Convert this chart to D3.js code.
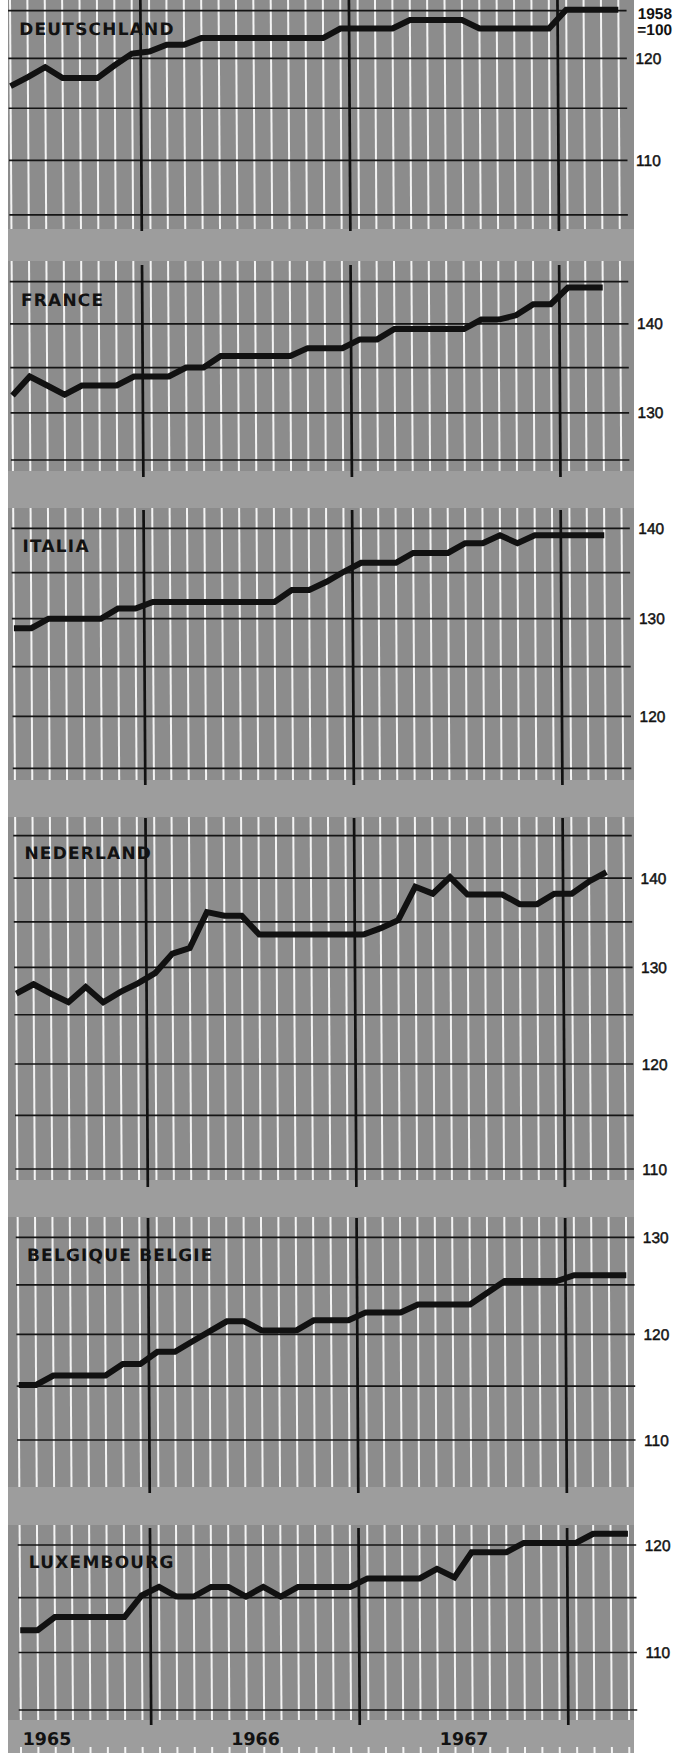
<!DOCTYPE html>
<html>

<head>
    <meta charset="utf-8">
    <script src="https://d3js.org/d3.v7.min.js" charset="utf-8"></script>
    <style>
        body { margin: 0; background: #fff; }
        svg { display: block; }
        .title { font-family: "DejaVu Sans", sans-serif; font-weight: bold; font-size: 17px; letter-spacing: 1.2px; fill: #121212; }
        .ylab { font-family: "Liberation Sans", Arial, sans-serif; font-size: 15.5px; fill: #121212; stroke: #121212; stroke-width: 0.45px; }
        .base { font-family: "Liberation Sans", Arial, sans-serif; font-weight: bold; font-size: 15.5px; fill: #121212; }
        .year { font-family: "DejaVu Sans", sans-serif; font-weight: bold; font-size: 17.5px; fill: #121212; }
    </style>
</head>

<body>
    <div id="chart_container"></div>
    <script>
        // monthly index, 1958 = 100 (ratio scale)
        const months = [
            'May 1965', 'Jun 1965', 'Jul 1965', 'Aug 1965', 'Sep 1965', 'Oct 1965', 'Nov 1965', 'Dec 1965',
            'Jan 1966', 'Feb 1966', 'Mar 1966', 'Apr 1966', 'May 1966', 'Jun 1966', 'Jul 1966', 'Aug 1966',
            'Sep 1966', 'Oct 1966', 'Nov 1966', 'Dec 1966',
            'Jan 1967', 'Feb 1967', 'Mar 1967', 'Apr 1967', 'May 1967', 'Jun 1967', 'Jul 1967', 'Aug 1967',
            'Sep 1967', 'Oct 1967', 'Nov 1967', 'Dec 1967',
            'Jan 1968', 'Feb 1968', 'Mar 1968', 'Apr 1968'
        ];
        const countries = ['DEUTSCHLAND', 'FRANCE', 'ITALIA', 'NEDERLAND', 'BELGIQUE BELGIE', 'LUXEMBOURG'];
        const yearLabels = ['1965', '1966', '1967'];

        const deutschland = [117.2, 118.1, 119.1, 118.0, 118.0, 118.0, 119.3, 120.5, 120.7, 121.4, 121.4, 122.1,
            122.1, 122.1, 122.1, 122.1, 122.1, 122.1, 122.1, 123.1, 123.1, 123.1, 123.1, 124.0,
            124.0, 124.0, 124.0, 123.1, 123.1, 123.1, 123.1, 123.1, 125.1, 125.1, 125.1, 125.1];
        const france = [131.9, 134.0, 133.0, 132.0, 133.0, 133.0, 133.0, 134.0, 134.0, 134.0, 135.0, 135.0,
            136.3, 136.3, 136.3, 136.3, 136.3, 137.2, 137.2, 137.2, 138.2, 138.2, 139.4, 139.4,
            139.4, 139.4, 139.4, 140.5, 140.5, 141.0, 142.3, 142.3, 144.3, 144.3, 144.3];
        const italia = [129.0, 129.0, 130.0, 130.0, 130.0, 130.0, 131.1, 131.1, 131.8, 131.8, 131.8, 131.8,
            131.8, 131.8, 131.8, 131.8, 133.1, 133.1, 134.0, 135.1, 136.1, 136.1, 136.1, 137.2,
            137.2, 137.2, 138.3, 138.3, 139.2, 138.3, 139.2, 139.2, 139.2, 139.2, 139.2];
        const nederland = [127.2, 128.2, 127.2, 126.3, 127.9, 126.3, 127.4, 128.3, 129.4, 131.5, 132.1, 136.1,
            135.7, 135.7, 133.6, 133.6, 133.6, 133.6, 133.6, 133.6, 133.6, 134.3, 135.2, 139.0,
            138.2, 140.1, 138.1, 138.1, 138.1, 137.0, 137.0, 138.2, 138.2, 139.6, 140.7];
        const belgique = [115.1, 115.1, 116.0, 116.0, 116.0, 116.0, 117.1, 117.1, 118.3, 118.3, 119.3, 120.3,
            121.3, 121.3, 120.4, 120.4, 120.4, 121.4, 121.4, 121.4, 122.2, 122.2, 122.2, 123.0,
            123.0, 123.0, 123.0, 124.2, 125.4, 125.4, 125.4, 125.4, 126.0, 126.0, 126.0, 126.0];
        const luxembourg = [112.0, 112.0, 113.2, 113.2, 113.2, 113.2, 113.2, 115.2, 116.0, 115.1, 115.1, 116.0,
            116.0, 115.1, 116.0, 115.1, 116.0, 116.0, 116.0, 116.0, 116.8, 116.8, 116.8, 116.8,
            117.7, 116.9, 119.3, 119.3, 119.3, 120.2, 120.2, 120.2, 120.2, 121.1, 121.1, 121.1];

        // grid value range of each panel (gridlines every 5, labels every 10)
        const gridRanges = [[105, 125], [125, 145], [115, 140], [110, 145], [110, 130], [105, 120]];

        var width = 691,
            height = 1753;

        // layout of the six strips (pixels)
        var layout = [
            { yTop: 10.6, yBottom: 214.8, top: 0, bottom: 229, darkTop: 0, darkBottom: 231, titleY: 35 },
            { yTop: 281.7, yBottom: 460, top: 261, bottom: 471, darkTop: 265, darkBottom: 477, titleY: 306.5 },
            { yTop: 528.3, yBottom: 768.3, top: 508, bottom: 780, darkTop: 510, darkBottom: 785, titleY: 552.5 },
            { yTop: 835.7, yBottom: 1169, top: 817, bottom: 1180, darkTop: 818, darkBottom: 1187, titleY: 859 },
            { yTop: 1237.3, yBottom: 1440, top: 1217, bottom: 1487, darkTop: 1218, darkBottom: 1493, titleY: 1261.5 },
            { yTop: 1545, yBottom: 1710, top: 1525, bottom: 1720, darkTop: 1528, darkBottom: 1725, titleY: 1568 }
        ];
        var series = [deutschland, france, italia, nederland, belgique, luxembourg];

        var bgLeft = 8, bgRight = 634;
        var lineLeft = 8, lineRight = 626.5;
        var skew = 0.36; // the original sheet is slightly slanted

        var x = d3.scaleLinear()
            .domain([0, months.length - 1])
            .range([10, 10 + 17.38 * (months.length - 1)]);

        var firstJan = months.findIndex(m => m.startsWith('Jan'));
        var janIndexes = months.map((m, i) => m.startsWith('Jan') ? i : -1).filter(i => i >= 0);

        const svg = d3.select('#chart_container')
            .append('svg')
            .attr('width', width)
            .attr('height', height);

        svg.append('rect')
            .attr('x', bgLeft).attr('y', 0)
            .attr('width', bgRight - bgLeft).attr('height', height)
            .attr('fill', '#8c8c8c');

        // lighter bands between the strips
        layout.forEach((p, k) => {
            var next = k < layout.length - 1 ? layout[k + 1].top : height;
            svg.append('rect')
                .attr('x', bgLeft).attr('y', p.bottom)
                .attr('width', bgRight - bgLeft).attr('height', next - p.bottom)
                .attr('fill', '#9d9d9d');
        });

        const chart = svg.append('g').attr('transform', 'skewX(' + skew + ')');

        var line = d3.line();

        layout.forEach((p, k) => {
            var range = gridRanges[k];
            var y = d3.scaleLog()
                .domain([range[1], range[0]])
                .range([p.yTop, p.yBottom]);
            var g = chart.append('g');

            // month lines
            g.selectAll('.month')
                .data(months)
                .enter().append('line')
                .attr('x1', (d, i) => x(i)).attr('x2', (d, i) => x(i))
                .attr('y1', p.top).attr('y2', p.bottom)
                .attr('stroke', '#f3f3f3')
                .attr('stroke-width', 2);

            // value lines
            var ticks = d3.range(range[0], range[1] + 1, 5);
            g.selectAll('.hline')
                .data(ticks)
                .enter().append('line')
                .attr('x1', lineLeft).attr('x2', lineRight)
                .attr('y1', d => y(d)).attr('y2', d => y(d))
                .attr('stroke', '#151515')
                .attr('stroke-width', 1.7);

            // year boundaries
            g.selectAll('.yearline')
                .data(janIndexes)
                .enter().append('line')
                .attr('x1', d => x(d - 0.5)).attr('x2', d => x(d - 0.5))
                .attr('y1', p.darkTop).attr('y2', p.darkBottom)
                .attr('stroke', '#111')
                .attr('stroke-width', 2.7);

            // series
            var values = series[k];
            g.append('path')
                .attr('d', line(values.map((v, i) => [x(i), y(v)])))
                .attr('fill', 'none')
                .attr('stroke', '#111')
                .attr('stroke-width', 6)
                .attr('stroke-linejoin', 'miter')
                .attr('stroke-miterlimit', 3);

            g.append('text')
                .attr('class', 'title')
                .attr('x', 19)
                .attr('y', p.titleY)
                .text(countries[k]);

            g.selectAll('.ylab')
                .data(ticks.filter(d => d % 10 === 0))
                .enter().append('text')
                .attr('class', 'ylab')
                .attr('x', 635)
                .attr('y', d => y(d))
                .attr('dy', '0.36em')
                .text(d => d);
        });

        // base year note
        chart.append('text').attr('class', 'base')
            .attr('x', 672).attr('y', 18.7)
            .attr('text-anchor', 'end')
            .text('1958');
        chart.append('text').attr('class', 'base')
            .attr('x', 672).attr('y', 35)
            .attr('text-anchor', 'end')
            .text('=100');

        // year labels, centred between the year lines
        chart.selectAll('.year')
            .data(yearLabels)
            .enter().append('text')
            .attr('class', 'year')
            .attr('x', d => x(firstJan + 12 * (+d - 1966) + 5.5))
            .attr('y', 1745)
            .attr('text-anchor', 'middle')
            .text(d => d);

        // start of the next strip, cut off at the bottom
        chart.selectAll('.stub')
            .data(months)
            .enter().append('line')
            .attr('x1', (d, i) => x(i)).attr('x2', (d, i) => x(i))
            .attr('y1', 1747).attr('y2', height)
            .attr('stroke', '#f3f3f3')
            .attr('stroke-width', 2);
    </script>
</body>

</html>
